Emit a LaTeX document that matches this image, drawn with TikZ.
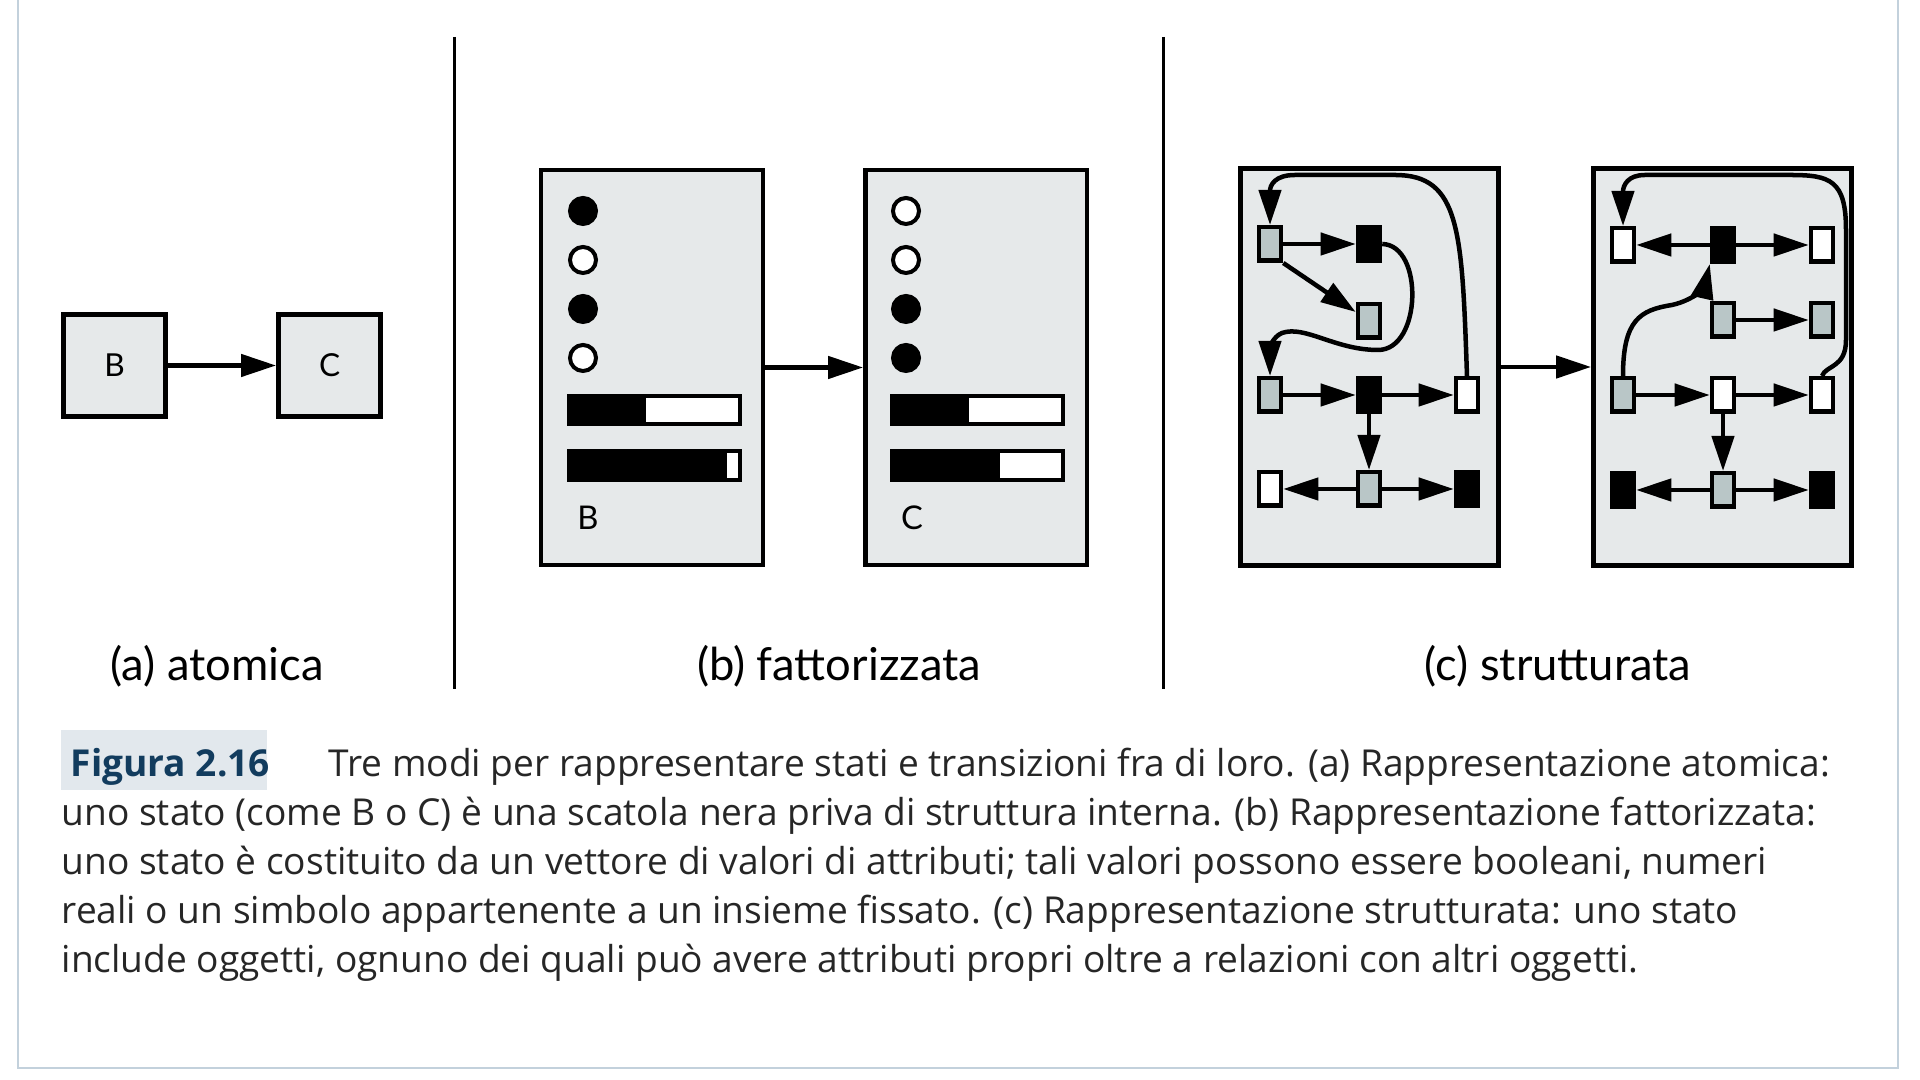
\documentclass[tikz,border=0pt]{standalone}
\usepackage{fontspec}
\setmainfont{Open Sans}
\newfontfamily\gill{Lato}
\usetikzlibrary{arrows.meta,positioning}
\definecolor{boxgray}{HTML}{E6E9EA}
\definecolor{objgray}{HTML}{B9C6C7}
\definecolor{framecol}{HTML}{C3D1DC}
\definecolor{tagcol}{HTML}{E2E8ED}
\definecolor{tagtext}{HTML}{123C5E}
\tikzstyle{atom}=[rectangle,draw,line width=0.05cm,fill=boxgray,minimum size=1.02cm,inner sep=0pt,font=\gill\fontsize{9}{9}\selectfont]
\tikzstyle{fact}=[rectangle,draw,line width=0.045cm,fill=boxgray,minimum width=2.215cm,minimum height=3.945cm,inner sep=0pt]
\tikzstyle{strut}=[rectangle,draw,line width=0.05cm,fill=boxgray,minimum width=2.58cm,minimum height=3.96cm,inner sep=0pt]
\tikzstyle{objw}=[rectangle,draw,line width=0.045cm,fill=white,minimum width=0.22cm,minimum height=0.335cm,inner sep=0pt]
\tikzstyle{objg}=[objw,fill=objgray]
\tikzstyle{objb}=[objw,fill=black]
\tikzstyle{bit}=[circle,draw,line width=0.04cm,minimum size=0.26cm,inner sep=0pt]
\tikzstyle{link}=[line width=0.045cm,-{Triangle[length=0.35cm,width=0.22cm]}]
\tikzstyle{sublabel}=[font=\gill\fontsize{12.9}{12.9}\selectfont]
\tikzstyle{capline}=[anchor=mid west,inner sep=0pt,font=\fontsize{10.55}{10.55}\selectfont,text=black!85]

\begin{document}
\begin{tikzpicture}[x=0.01cm,y=-0.01cm]
  \useasboundingbox (0,0) rectangle (1920,1080);
  \draw[framecol,line width=0.02cm] (18,0) -- (18,1068) -- (1898,1068) -- (1898,0);
  % separatori
  \draw[line width=0.03cm] (454,37) -- (454,689);
  \draw[line width=0.03cm] (1163,37) -- (1163,689);

  % (a) atomica
  \node[atom] (aB) at (114.5,365.5) {B};
  \node[atom,right=1.08cm of aB] (aC) {C};
  \draw[link] (aB)--(aC);
  \node[sublabel] (alab) at (217,666) {(a) atomica};

  % (b) fattorizzata
  \node[fact] (fB) at (652,367.5) {};
  \node[fact,right=0.98cm of fB] (fC) {};
  \draw[link] (fB)--(fC);
  \foreach \y/\c in {211/black,260/white,309/black,358/white}
    \node[bit,fill=\c] at (583,\y) {};
  \foreach \y/\c in {211/white,260/white,309/black,358/black}
    \node[bit,fill=\c] at (906,\y) {};
  \fill (567,394) rectangle (742,426);
  \fill[white] (646,398) rectangle (738,422);
  \fill (567,449) rectangle (742,482);
  \fill[white] (727,453) rectangle (738,478);
  \fill (890,394) rectangle (1065,426);
  \fill[white] (969,398) rectangle (1061,422);
  \fill (890,449) rectangle (1065,482);
  \fill[white] (1000,453) rectangle (1061,478);
  \node[font=\gill\fontsize{9.3}{9.3}\selectfont] (fBlab) at (588,518) {B};
  \node[font=\gill\fontsize{9.3}{9.3}\selectfont] (fClab) at (912,518) {C};
  \node[sublabel] (blab) at (839,666) {(b) fattorizzata};

  % (c) strutturata
  \node[strut] (sB) at (1369.5,367) {};
  \node[strut,right=0.9cm of sB] (sC) {};
  \draw[link] (sB)--(sC);
  % primo stato
  \node[objg] (p11) at (1270,244) {};
  \node[objb] (p12) at (1369,244) {};
  \node[objg] (p22) at (1369,321) {};
  \node[objg] (p31) at (1270,395) {};
  \node[objb] (p32) at (1369,395) {};
  \node[objw] (p33) at (1467,395) {};
  \node[objw] (p41) at (1270,489) {};
  \node[objg] (p42) at (1369,489) {};
  \node[objb] (p43) at (1467,489) {};
  \draw[link] (p11)--(p12);
  \draw[link] (p11.south east)--(p22);
  \draw[link] (p31)--(p32);
  \draw[link] (p32)--(p33);
  \draw[link] (p32)--(p42);
  \draw[link] (p42)--(p41);
  \draw[link] (p42)--(p43);
  \draw[link] (p12.east) .. controls (1424,245) and (1422,350) .. (1378,350)
    .. controls (1335,350) and (1305,325) .. (1282,333)
    .. controls (1272,337) and (1270,350) .. (p31.north);
  \draw[link] (p33.north) .. controls (1462,230) and (1460,175) .. (1395,175) -- (1295,175)
    .. controls (1275,175) and (1270,185) .. (p11.north);
  % secondo stato
  \node[objw] (q11) at (1623,245) {};
  \node[objb] (q12) at (1723,245) {};
  \node[objw] (q13) at (1822,245) {};
  \node[objg] (q22) at (1723,320) {};
  \node[objg] (q23) at (1822,320) {};
  \node[objg] (q31) at (1623,395) {};
  \node[objw] (q32) at (1723,395) {};
  \node[objw] (q33) at (1822,395) {};
  \node[objb] (q41) at (1623,490) {};
  \node[objg] (q42) at (1723,490) {};
  \node[objb] (q43) at (1822,490) {};
  \draw[link] (q12)--(q11);
  \draw[link] (q12)--(q13);
  \draw[link] (q22)--(q23);
  \draw[link] (q31)--(q32);
  \draw[link] (q32)--(q33);
  \draw[link] (q32)--(q42);
  \draw[link] (q42)--(q41);
  \draw[link] (q42)--(q43);
  \draw[link] (q31.north) .. controls (1623,320) and (1640,310) .. (1672,305)
    .. controls (1695,300) and (1705,285) .. (q12.south west);
  \draw[link] (q33.north) .. controls (1826,365) and (1846,368) .. (1846,340) -- (1846,230)
    .. controls (1846,180) and (1830,175) .. (1790,175) -- (1645,175)
    .. controls (1628,175) and (1623,185) .. (q11.north);
  \node[sublabel] (clab) at (1558,666) {(c) strutturata};

  % didascalia
  \fill[tagcol] (61,730) rectangle (267,790);
  \node[capline,text=tagtext,font=\bfseries\fontsize{10.55}{10.55}\selectfont] (fig) at (70,767) {Figura 2.16};
  \node[capline] (l1) at (328,767) {Tre modi per rappresentare stati e transizioni fra di loro. (a) Rappresentazione atomica:};
  \node[capline] (l2) at (61,816) {uno stato (come B o C) è una scatola nera priva di struttura interna. (b) Rappresentazione fattorizzata:};
  \node[capline] (l3) at (61,865) {uno stato è costituito da un vettore di valori di attributi; tali valori possono essere booleani, numeri};
  \node[capline] (l4) at (61,914) {reali o un simbolo appartenente a un insieme fissato. (c) Rappresentazione strutturata: uno stato};
  \node[capline] (l5) at (61,963) {include oggetti, ognuno dei quali può avere attributi propri oltre a relazioni con altri oggetti.};
\end{tikzpicture}
\end{document}
